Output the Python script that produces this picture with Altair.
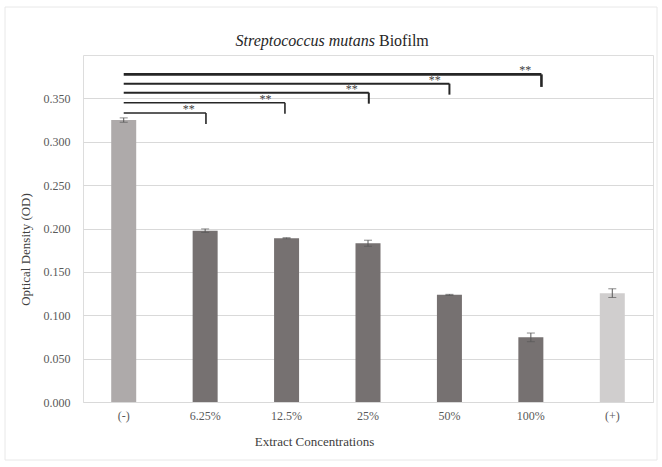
import altair as alt
import pandas as pd

# ---- data ----
categories = ["(-)", "6.25%", "12.5%", "25%", "50%", "100%", "(+)"]
od_values = [0.325, 0.1975, 0.1888, 0.1830, 0.1235, 0.0745, 0.1255]
od_errors = [0.0025, 0.0020, 0.0006, 0.0035, 0.0006, 0.0050, 0.0050]
bar_colors = ["#AEAAAA", "#767171", "#767171", "#767171", "#767171", "#767171", "#D0CECE"]
y_ticks = [0, 0.05, 0.1, 0.15, 0.2, 0.25, 0.3, 0.35]

# significance brackets (x in category-index units, y in OD units)
bracket_start = [0.0, 0.0, 0.0, 0.0, 0.0]
bracket_end = [1.01, 1.98, 3.01, 4.0, 5.13]
bracket_y = [0.3331, 0.3450, 0.3566, 0.3670, 0.3777]
bracket_drop = [0.0127, 0.0127, 0.0127, 0.0127, 0.0145]
bracket_width = [1.6, 1.6, 2.0, 2.0, 2.6]
star_x = [0.80, 1.74, 2.80, 3.82, 4.93]
star_label = ["**", "**", "**", "**", "**"]

FONT = "Liberation Serif"

df = pd.DataFrame({"cat": categories, "od": od_values, "err": od_errors})
br = pd.DataFrame({
    "x0": bracket_start, "x1": bracket_end, "y": bracket_y,
    "ybot": [a - b for a, b in zip(bracket_y, bracket_drop)],
    "w": bracket_width, "sx": star_x, "lab": star_label,
})

yscale = alt.Scale(domain=[0, 0.4], nice=False, zero=True)
yaxis = alt.Axis(title="Optical Density (OD)", values=y_ticks,
                 format=".3f", ticks=False, domain=False, grid=True,
                 gridColor="#D9D9D9", gridWidth=1,
                 labelFont=FONT, labelFontSize=12, labelColor="#595959",
                 labelPadding=13, titleFont=FONT, titleFontSize=13,
                 titleFontWeight="normal", titleColor="#404040",
                 titleX=-58, titleY=194, titleAngle=-90,
                 titleBaseline="middle", titleAlign="center")
xscale = alt.Scale(domain=categories, paddingInner=0, paddingOuter=0)
xaxis = alt.Axis(title="Extract Concentrations", labelAngle=0, ticks=False,
                 domain=False, grid=False, labelFont=FONT, labelFontSize=12,
                 labelColor="#595959", labelPadding=8,
                 titleFont=FONT, titleFontSize=13, titleFontWeight="normal",
                 titleColor="#404040", titleX=231, titleY=39,
                 titleBaseline="middle", titleAlign="center")


def xenc():
    return alt.X("cat:N", sort=categories, scale=xscale, axis=xaxis)


base = alt.Chart(df)

bars = base.mark_bar(size=25).encode(
    x=xenc(),
    y=alt.Y("od:Q", scale=yscale, axis=yaxis),
    color=alt.Color("cat:N", scale=alt.Scale(domain=categories, range=bar_colors),
                    legend=None),
)

err_base = base.transform_calculate(
    lo="datum.od - datum.err", hi="datum.od + datum.err"
)
err_rule = err_base.mark_rule(color="#595959", strokeWidth=1).encode(
    x=xenc(), y=alt.Y("lo:Q", scale=yscale, axis=yaxis), y2="hi:Q",
)
err_top = err_base.mark_tick(color="#595959", size=8, thickness=1).encode(
    x=xenc(), y=alt.Y("hi:Q", scale=yscale, axis=yaxis),
)
err_bot = err_base.mark_tick(color="#595959", size=8, thickness=1).encode(
    x=xenc(), y=alt.Y("lo:Q", scale=yscale, axis=yaxis),
)

bar_group = alt.layer(bars, err_rule, err_top, err_bot)

bx = alt.Scale(domain=[-0.5, 6.5], nice=False, zero=False)
bbase = alt.Chart(br)
hlines = bbase.mark_rule(color="#262626").encode(
    x=alt.X("x0:Q", scale=bx, axis=None), x2="x1:Q",
    y=alt.Y("y:Q", scale=yscale, axis=yaxis),
    strokeWidth=alt.StrokeWidth("w:Q", scale=None),
)
vlines = bbase.mark_rule(color="#262626").encode(
    x=alt.X("x1:Q", scale=bx, axis=None),
    y=alt.Y("y:Q", scale=yscale, axis=yaxis), y2="ybot:Q",
    strokeWidth=alt.StrokeWidth("w:Q", scale=None),
)
stars = bbase.mark_text(font=FONT, fontSize=12, color="#404040", baseline="bottom", dy=3).encode(
    x=alt.X("sx:Q", scale=bx, axis=None),
    y=alt.Y("y:Q", scale=yscale, axis=yaxis),
    text="lab:N",
)
bracket_group = alt.layer(hlines, vlines, stars)

one = alt.Data(values=[{"a": 1}])
frame = alt.Chart(one).mark_rect(fill="transparent", stroke="#E8E8E8", strokeWidth=1).encode(
    x=alt.value(-78), x2=alt.value(574), y=alt.value(-48), y2=alt.value(405)
)
title_it = alt.Chart(one).mark_text(font=FONT, fontSize=16, fontStyle="italic",
                                    color="#262626", align="right", baseline="middle").encode(
    x=alt.value(292), y=alt.value(-14), text=alt.value("Streptococcus mutans")
)
title_rg = alt.Chart(one).mark_text(font=FONT, fontSize=16, color="#262626",
                                    align="left", baseline="middle").encode(
    x=alt.value(296), y=alt.value(-14), text=alt.value("Biofilm")
)

chart = alt.layer(bar_group, bracket_group, frame, title_it, title_rg).resolve_scale(
    x="independent"
).properties(
    width=570, height=347,
    autosize=alt.AutoSizeParams(type="none"),
    padding={"left": 83, "top": 55, "right": 9, "bottom": 65},
).configure_view(stroke="transparent", strokeWidth=0).configure(background="white")

chart.save("out.html", embed_options={"renderer": "svg", "actions": False})
